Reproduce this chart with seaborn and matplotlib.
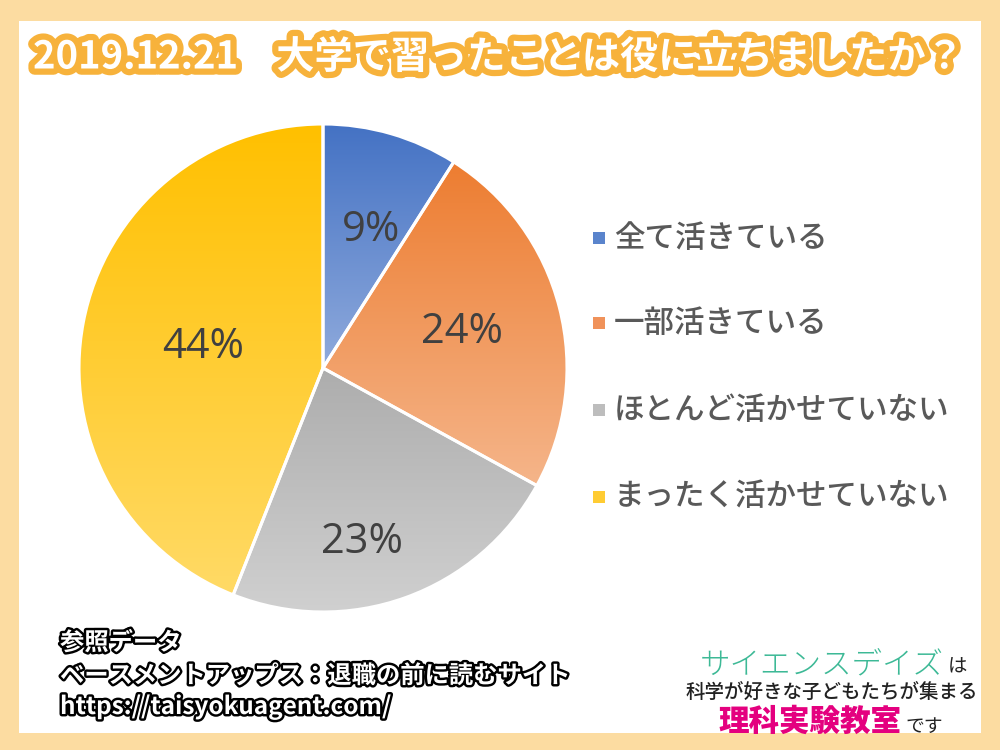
import numpy as np
import matplotlib
matplotlib.use("Agg")
import matplotlib.pyplot as plt
import matplotlib.patheffects as pe
from matplotlib.patches import Rectangle
from matplotlib.colors import LinearSegmentedColormap
import seaborn as sns

# ---------------- data ----------------
categories = ["全て活きている", "一部活きている", "ほとんど活かせていない", "まったく活かせていない"]
values = [9, 24, 23, 44]
pct_labels = ["9%", "24%", "23%", "44%"]
title = "2019.12.21　大学で習ったことは役に立ちましたか？"
source_lines = ["参照データ", "ベースメントアップス：退職の前に読むサイト", "https://taisyokuagent.com/"]

# ---------------- style ----------------
top_colors = ["#4472C4", "#ED7D31", "#ADADAD", "#FFC000"]
bottom_colors = ["#8FAADC", "#F5B58A", "#D0D0D0", "#FFDA66"]
legend_colors = ["#5A84CC", "#F0925A", "#BDBDBD", "#FFCC33"]
label_r = [0.60, 0.59, 0.73, 0.50]
label_dtheta = [-3, 0, -7, 1]

sns.set_theme(style="white")
plt.rcParams["font.family"] = ["Noto Sans CJK JP", "DejaVu Sans"]

W, H = 1000, 750
fig = plt.figure(figsize=(10, 7.5), dpi=100)
fig.patch.set_facecolor("#FCDCA1")

def fx(x):
    return x / W

def fy(y):
    return 1 - y / H

# white panel
fig.patches.append(Rectangle((fx(19), fy(733)), fx(981) - fx(19), fy(21) - fy(733),
                             transform=fig.transFigure, facecolor="white", edgecolor="none", zorder=-5))

# ---------------- pie ----------------
cx, cy, R = 323, 368, 244
ax = fig.add_axes([fx(cx - R), fy(cy + R), 2 * R / W, 2 * R / H])
ax.set_zorder(1)
ax.set_facecolor("none")
wedges, _ = ax.pie(values, startangle=90, counterclock=False, radius=1,
                   colors=top_colors,
                   wedgeprops=dict(edgecolor="white", linewidth=2.2))
ax.set_aspect("equal")
ax.axis("off")

grad = np.linspace(0, 1, 256).reshape(-1, 1)
for i, w in enumerate(wedges):
    ext = w.get_path().get_extents()
    cmap = LinearSegmentedColormap.from_list(f"g{i}", [top_colors[i], bottom_colors[i]])
    im = ax.imshow(grad, cmap=cmap, aspect="auto", origin="upper",
                   extent=[ext.x0, ext.x1, ext.y0, ext.y1], zorder=1, interpolation="bilinear")
    im.set_clip_path(w)
    w.set_facecolor("none")
    w.set_zorder(2)
    th = np.deg2rad((w.theta1 + w.theta2) / 2 + label_dtheta[i])
    ax.text(label_r[i] * np.cos(th), label_r[i] * np.sin(th), pct_labels[i],
            ha="center", va="center", fontsize=30, color="#404040",
            family=["Open Sans", "DejaVu Sans"], zorder=3)
ax.set_xlim(-1.0, 1.0)
ax.set_ylim(-1.0, 1.0)
ax.set_aspect("equal")

# ---------------- legend ----------------
leg_y = [238, 323, 410, 497]
for i, cat in enumerate(categories):
    fig.patches.append(Rectangle((fx(593), fy(leg_y[i] + 6)), 12 / W, 12 / H,
                                 transform=fig.transFigure, facecolor=legend_colors[i],
                                 edgecolor="none", zorder=2))
    fig.text(fx(614), fy(leg_y[i]), cat, ha="left", va="center", fontsize=22,
             color="#595959", fontweight="medium")

# ---------------- title ----------------
fig.text(fx(33), fy(57), title, ha="left", va="center", fontsize=27.5, fontweight="bold",
         color="white", path_effects=[pe.withStroke(linewidth=9, foreground="#F7B23B")])

# ---------------- source ----------------
src_y = [643, 676, 707]
for s, y in zip(source_lines, src_y):
    fig.text(fx(60), fy(y), s, ha="left", va="center", fontsize=17.5, fontweight="bold",
             color="white", path_effects=[pe.withStroke(linewidth=3.5, foreground="black")])

# ---------------- logo ----------------
fig.text(fx(700), fy(664), "サイエンスデイズ", ha="left", va="center", fontsize=22,
         color="#3DB996", fontweight="light")
fig.text(fx(948), fy(667), "は", ha="left", va="center", fontsize=14, color="#222222")
fig.text(fx(832), fy(692), "科学が好きな子どもたちが集まる", ha="center", va="center",
         fontsize=14, color="#222222", fontweight="medium")
fig.text(fx(718), fy(721), "理科実験教室", ha="left", va="center", fontsize=22,
         color="#E4007F", fontweight="black")
fig.text(fx(905), fy(726), "です", ha="left", va="center", fontsize=13.5, color="#222222")

fig.savefig("out.png", dpi=100, facecolor=fig.get_facecolor())
